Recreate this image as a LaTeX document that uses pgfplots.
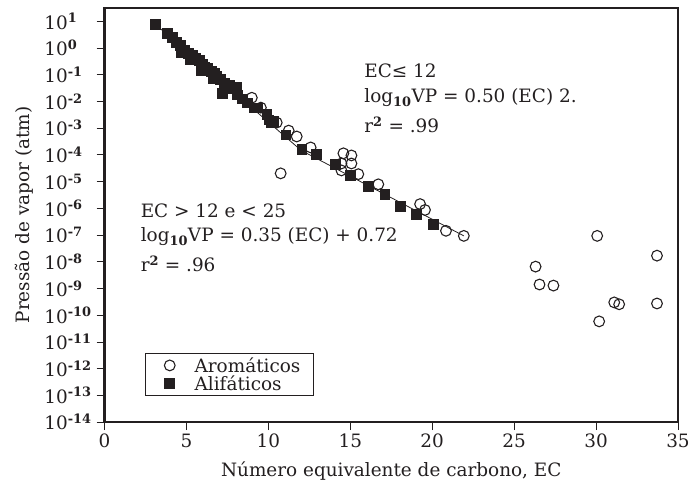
\documentclass[border=0pt]{standalone}
\usepackage{fontspec}
\setmainfont{DejaVu Serif}
\usepackage{pgfplots}
\pgfplotsset{compat=1.18}
\definecolor{ink}{HTML}{231F20}
\newcommand{\supb}[1]{\textsuperscript{\bfseries #1}}

\pgfplotstableread{
ec lvp
3.10 0.89
3.83 0.55
4.13 0.41
4.37 0.22
4.62 0.11
4.70 -0.15
4.86 -0.08
5.10 -0.19
5.20 -0.42
5.35 -0.26
5.53 -0.38
5.77 -0.45
5.90 -0.82
5.95 -0.60
6.08 -0.71
6.26 -0.75
6.50 -0.86
6.60 -1.15
6.68 -0.93
6.80 -1.04
7.05 -1.16
7.29 -1.30
7.17 -1.68
7.59 -1.38
7.72 -1.49
8.02 -1.45
8.08 -1.75
8.38 -1.90
8.69 -2.05
9.11 -2.23
9.30 -2.23
9.90 -2.49
10.02 -2.68
10.15 -2.79
10.33 -2.75
11.06 -3.24
12.03 -3.80
12.94 -3.98
14.09 -4.35
15.00 -4.76
16.10 -5.17
17.10 -5.47
18.04 -5.91
19.00 -6.21
20.05 -6.58
}\alif

\pgfplotstableread{
ec lvp
8.99 -1.86
9.54 -2.23
10.51 -2.79
11.24 -3.09
11.73 -3.31
12.58 -3.72
14.58 -3.94
15.07 -4.02
15.07 -4.32
14.46 -4.32
14.46 -4.58
15.49 -4.72
16.71 -5.10
19.26 -5.84
19.56 -6.06
20.84 -6.84
21.93 -7.03
10.75 -4.69
30.07 -7.03
33.72 -7.77
26.31 -8.18
26.55 -8.85
27.40 -8.89
31.11 -9.52
31.41 -9.59
33.72 -9.56
30.19 -10.23
}\arom

\begin{document}
\begin{tikzpicture}[font=\fontsize{18.5}{21}\selectfont]
\path (-105pt,-66pt) rectangle (588pt,424pt);
\begin{axis}[
  at={(0pt,0pt)}, anchor=south west,
  scale only axis, width=576pt, height=416pt,
  xmin=0, xmax=35, ymin=-14, ymax=1.5,
  xtick={0,5,...,35},
  ytick={-14,-13,...,1},
  yticklabels={10\supb{-14},10\supb{-13},10\supb{-12},10\supb{-11},10\supb{-10},10\supb{-9},10\supb{-8},10\supb{-7},10\supb{-6},10\supb{-5},10\supb{-4},10\supb{-3},10\supb{-2},10\supb{-1},10\supb{0},10\supb{1}},
  xticklabel={\pgfmathprintnumber[assume math mode=true]{\tick}},
  tick align=outside, xtick pos=bottom, ytick pos=left,
  major tick length=8pt,
  tick style={line width=0.9pt, color=ink},
  axis line style={line width=2.4pt, color=ink},
  ticklabel style={font=\fontsize{18.5}{21}\selectfont, text=ink},
  yticklabel style={anchor=west, xshift=-56pt},
  every axis x label/.style={at={(axis description cs:0.5,-0.117)}, anchor=center},
  every axis y label/.style={at={(axis description cs:-0.14,0.5)}, rotate=90, anchor=center},
  xlabel={Número equivalente de carbono, EC},
  ylabel={Pressão de vapor (atm)},
  label style={font=\fontsize{18.5}{21}\selectfont, text=ink},
  legend style={at={(0.0712,0.0625)}, anchor=south west, draw=ink, line width=1pt,
    font=\fontsize{18.5}{21}\selectfont, inner xsep=2pt, inner ysep=4pt, row sep=2pt,
    nodes={inner ysep=0pt}, cells={anchor=west}, text=ink},
  legend image code/.code={\path[draw=none,fill=none] (0pt,-5pt) rectangle (45pt,5pt);
    \draw[mark repeat=2,mark phase=2,#1] plot coordinates {(0pt,0pt) (22pt,0pt) (45pt,0pt)};},
  clip=false,
]
\addplot[only marks, mark=o, mark size=5.4pt, mark options={line width=1.1pt, draw=ink}] table[x=ec,y=lvp] {\arom};
\addlegendentry{Aromáticos\hspace*{9pt}}
\addplot[only marks, mark=square*, mark size=4.9pt, mark options={draw=ink, fill=ink}] table[x=ec,y=lvp] {\alif};
\addlegendentry{Alifáticos}
\addplot[ink, line width=0.8pt, forget plot] coordinates {(3.10,0.89) (12.0,-3.83) (21.93,-7.03)};
\node[anchor=west, text=ink, inner sep=0pt] at (axis cs:15.85,-0.85) {EC≤ 12};
\node[anchor=west, text=ink, inner sep=0pt] at (axis cs:15.85,-1.85) {log\textsubscript{\bfseries 10}VP = 0.50 (EC) 2.};
\node[anchor=west, text=ink, inner sep=0pt] at (axis cs:15.85,-2.87) {r\supb{2} = .99};
\node[anchor=west, text=ink, inner sep=0pt] at (axis cs:2.2,-6.1) {EC > 12 e < 25};
\node[anchor=west, text=ink, inner sep=0pt] at (axis cs:2.2,-7.07) {log\textsubscript{\bfseries 10}VP = 0.35 (EC) + 0.72};
\node[anchor=west, text=ink, inner sep=0pt] at (axis cs:2.2,-8.08) {r\supb{2} = .96};
\end{axis}
\end{tikzpicture}
\end{document}
